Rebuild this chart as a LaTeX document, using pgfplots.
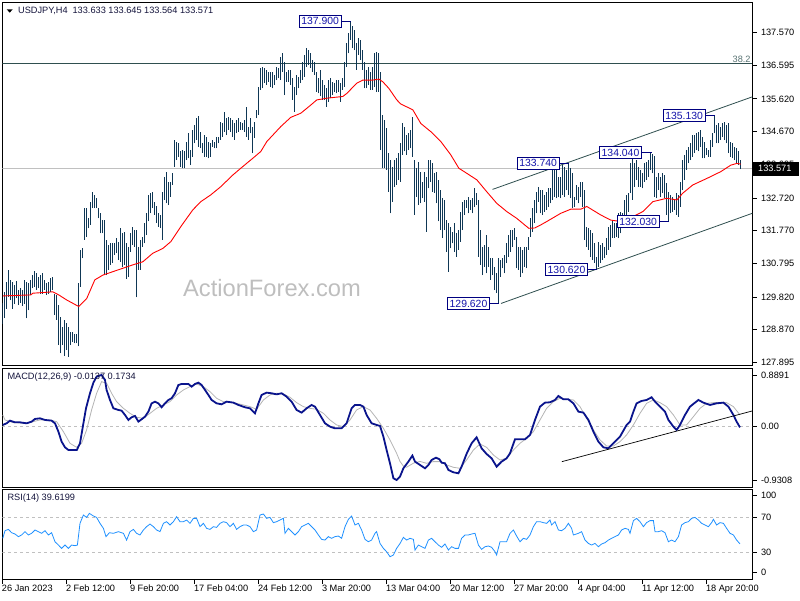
\documentclass[border=0pt]{standalone}
\usepackage{fontspec}
\setmainfont{Liberation Sans}
\usepackage{pgfplots}
\usepackage{pgfplotstable}
\pgfplotsset{compat=1.18}

\definecolor{barcol}{RGB}{15,55,85}
\definecolor{lblnavy}{RGB}{0,0,128}
\definecolor{lbltext}{RGB}{20,20,170}
\definecolor{slate}{RGB}{47,79,79}
\definecolor{macdblue}{RGB}{10,20,140}
\definecolor{sig}{RGB}{180,180,180}
\definecolor{rsiblue}{RGB}{30,144,255}
\definecolor{silv}{RGB}{192,192,192}
\definecolor{wm}{RGB}{190,190,190}
\definecolor{hdr}{RGB}{20,20,60}

\newcommand{\sm}{\fontsize{9.2}{11}\selectfont}
\newcommand{\lblf}{\fontsize{10.4}{12}\selectfont}

% H4 bars: low high (bar index = row number)
\pgfplotstableread[row sep=\\]{
l h\\
129.02 129.63\\ 129.19 129.97\\ 129.48 130.27\\ 129.82 130.62\\ 129.73 130.33\\ 129.48 130.27\\ 129.62 130.17\\ 129.78 130.30\\ 129.58 130.02\\ 129.65 130.07\\
129.55 130.02\\ 129.62 130.32\\ 129.19 130.27\\ 129.43 130.22\\ 129.88 130.32\\ 130.07 130.46\\ 130.12 130.59\\ 130.02 130.53\\ 130.07 130.41\\ 129.92 130.46\\
129.92 130.51\\ 130.02 130.32\\ 129.88 130.22\\ 129.92 130.27\\ 129.97 130.37\\ 130.02 130.41\\ 129.29 129.92\\ 129.15 129.88\\ 128.41 129.58\\ 128.17 129.24\\
128.41 128.95\\ 128.09 129.15\\ 128.27 129.05\\ 128.07 128.95\\ 128.41 128.80\\ 128.51 128.80\\ 128.46 128.75\\ 128.46 128.75\\ 128.37 130.22\\ 130.12 131.20\\
130.95 131.24\\ 131.49 132.42\\ 131.59 132.42\\ 131.83 132.12\\ 131.93 132.61\\ 132.42 132.90\\ 132.42 132.81\\ 132.42 132.71\\ 132.12 132.42\\ 131.68 132.27\\
131.68 132.07\\ 130.46 132.07\\ 130.46 131.49\\ 130.61 131.34\\ 130.76 131.39\\ 130.81 131.39\\ 131.05 131.39\\ 131.10 131.54\\ 130.90 131.44\\ 130.85 131.83\\
130.71 131.68\\ 130.76 131.73\\ 130.34 131.39\\ 130.41 131.29\\ 131.15 131.68\\ 131.34 131.88\\ 131.29 131.78\\ 129.81 131.78\\ 130.61 131.29\\ 130.61 131.49\\
131.29 131.59\\ 131.39 131.98\\ 131.63 132.27\\ 132.03 132.81\\ 132.27 132.86\\ 132.42 132.90\\ 132.22 132.61\\ 131.98 132.47\\ 131.88 132.27\\ 131.83 132.22\\
131.49 132.90\\ 132.66 133.34\\ 132.56 133.49\\ 132.51 133.20\\ 132.76 133.20\\ 133.10 133.44\\ 133.64 134.42\\ 133.83 134.37\\ 133.93 134.32\\ 133.64 134.08\\
133.59 134.12\\ 133.59 134.08\\ 133.83 134.37\\ 133.88 134.61\\ 133.68 134.12\\ 133.93 134.71\\ 134.32 134.86\\ 134.42 135.05\\ 134.22 135.12\\ 134.17 134.66\\
134.03 134.32\\ 133.93 134.56\\ 133.93 134.51\\ 133.88 134.37\\ 133.93 134.32\\ 134.22 134.42\\ 134.17 134.37\\ 134.17 134.51\\ 134.32 134.51\\ 134.42 134.95\\
134.51 134.90\\ 134.66 135.25\\ 134.56 135.05\\ 134.71 135.10\\ 134.66 135.05\\ 134.51 135.00\\ 134.42 134.90\\ 134.61 135.00\\ 134.66 135.05\\ 134.71 134.95\\
134.71 134.90\\ 134.66 135.00\\ 134.51 135.39\\ 134.42 134.81\\ 134.61 135.05\\ 134.03 134.81\\ 134.47 134.95\\ 135.05 135.30\\ 135.15 135.98\\ 135.88 136.52\\
135.93 136.56\\ 136.08 136.52\\ 136.03 136.47\\ 136.12 136.42\\ 135.98 136.42\\ 135.93 136.42\\ 136.03 136.32\\ 136.17 136.56\\ 136.22 136.52\\ 136.17 136.86\\
136.42 136.95\\ 135.73 136.71\\ 136.12 136.42\\ 136.12 136.47\\ 136.03 136.47\\ 135.59 136.22\\ 135.25 135.98\\ 135.73 136.32\\ 135.93 136.27\\ 136.08 136.47\\
136.17 136.71\\ 136.27 136.91\\ 136.56 137.10\\ 136.61 137.05\\ 136.52 136.95\\ 136.42 136.76\\ 136.32 136.71\\ 135.83 136.42\\ 135.78 136.22\\ 135.69 136.47\\
135.59 136.17\\ 135.59 136.03\\ 135.39 135.93\\ 135.54 136.17\\ 135.64 136.22\\ 135.73 136.12\\ 135.83 136.08\\ 135.78 136.17\\ 135.83 136.17\\ 135.54 136.08\\
135.88 136.22\\ 135.98 136.71\\ 136.56 137.25\\ 136.95 137.54\\ 137.35 137.90\\ 137.10 137.74\\ 137.05 137.64\\ 136.47 137.25\\ 136.91 137.39\\ 136.76 137.35\\
136.47 137.05\\ 135.93 136.71\\ 135.93 136.47\\ 136.03 136.56\\ 135.88 136.42\\ 135.88 136.56\\ 135.98 136.95\\ 135.83 137.00\\ 135.83 136.95\\ 134.12 136.42\\
133.59 135.15\\ 133.59 135.00\\ 133.54 134.76\\ 132.90 134.03\\ 132.27 133.83\\ 132.61 133.64\\ 133.05 133.83\\ 133.10 133.88\\ 133.24 134.03\\ 133.20 134.32\\
133.98 134.90\\ 134.08 134.81\\ 133.98 134.56\\ 134.12 134.61\\ 134.17 134.71\\ 133.93 135.10\\ 132.22 133.83\\ 132.76 133.59\\ 132.51 133.78\\ 132.56 133.49\\
132.71 133.20\\ 132.61 133.49\\ 131.73 133.34\\ 133.00 133.83\\ 133.20 133.83\\ 132.90 133.73\\ 132.86 133.44\\ 132.56 133.49\\ 132.03 133.25\\ 131.78 132.95\\
131.54 132.71\\ 131.78 132.66\\ 131.15 132.07\\ 130.56 131.98\\ 131.24 131.88\\ 131.39 131.73\\ 131.15 131.98\\ 131.00 131.68\\ 131.20 131.78\\ 131.44 132.32\\
131.78 132.61\\ 132.22 132.66\\ 132.42 132.66\\ 132.27 132.76\\ 132.37 132.66\\ 132.27 132.71\\ 132.46 133.00\\ 132.51 132.86\\ 131.00 132.66\\ 130.76 131.78\\
130.46 131.29\\ 130.71 131.34\\ 130.51 131.64\\ 130.71 131.29\\ 130.32 130.95\\ 130.46 130.95\\ 130.02 130.71\\ 129.93 130.51\\ 129.62 130.95\\ 130.41 130.90\\
130.66 130.95\\ 130.51 131.05\\ 130.81 131.39\\ 131.00 131.64\\ 131.15 131.78\\ 131.29 131.78\\ 131.49 131.83\\ 130.66 131.59\\ 130.61 131.29\\ 130.41 131.29\\
130.51 131.20\\ 130.71 131.29\\ 130.66 131.29\\ 131.20 131.59\\ 131.59 132.12\\ 131.73 132.42\\ 131.98 132.66\\ 132.27 132.90\\ 132.61 133.05\\ 132.27 132.95\\
132.22 132.95\\ 132.32 132.80\\ 132.37 132.90\\ 132.46 133.00\\ 132.56 133.00\\ 132.66 133.73\\ 132.76 133.73\\ 132.71 133.59\\ 132.76 133.34\\ 132.71 133.34\\
132.81 133.73\\ 132.76 133.64\\ 132.95 133.54\\ 132.81 133.74\\ 132.71 133.59\\ 132.42 133.44\\ 132.46 132.76\\ 132.66 133.10\\ 132.56 133.05\\ 132.76 133.20\\
132.46 133.20\\ 131.49 132.95\\ 131.29 131.88\\ 131.20 131.83\\ 131.00 131.78\\ 130.90 131.68\\ 130.81 131.39\\ 130.62 131.00\\ 130.71 131.44\\ 130.81 131.34\\
130.90 131.39\\ 130.95 131.29\\ 131.05 131.54\\ 131.20 131.88\\ 131.29 131.93\\ 131.54 132.03\\ 131.54 131.98\\ 131.59 131.98\\ 131.54 132.27\\ 131.68 132.32\\
131.83 132.27\\ 132.03 132.66\\ 132.17 132.81\\ 132.32 132.86\\ 132.86 133.73\\ 132.66 133.85\\ 133.05 133.73\\ 133.25 133.83\\ 133.05 133.64\\ 133.05 133.54\\
133.00 133.44\\ 133.20 133.73\\ 133.25 133.78\\ 133.34 133.83\\ 133.54 134.04\\ 133.44 134.00\\ 132.76 133.95\\ 132.71 133.34\\ 132.95 133.44\\ 132.76 133.34\\
132.86 133.44\\ 132.71 133.39\\ 132.22 133.15\\ 132.03 132.90\\ 132.27 132.81\\ 132.32 132.76\\ 132.37 132.66\\ 132.22 132.86\\ 132.17 132.81\\ 132.46 133.20\\
132.95 133.83\\ 133.25 133.98\\ 133.54 134.12\\ 133.73 134.22\\ 133.83 134.32\\ 133.93 134.56\\ 134.03 134.56\\ 134.12 134.61\\ 134.08 134.66\\ 134.22 134.71\\
133.88 134.51\\ 133.88 134.37\\ 133.98 134.17\\ 133.93 134.12\\ 133.93 134.42\\ 134.22 134.61\\ 134.61 135.13\\ 134.32 134.86\\ 134.32 134.90\\ 134.42 134.81\\
134.51 134.90\\ 134.42 134.95\\ 134.32 134.86\\ 134.03 134.90\\ 133.93 134.37\\ 133.88 134.32\\ 133.83 134.22\\ 133.73 134.17\\ 133.68 134.08\\ 133.56 133.83\\
}\bars

% moving average
\pgfplotstableread[row sep=\\]{
i v\\
0 129.85\\ 14 129.88\\ 15 129.93\\ 25 129.97\\ 28 129.88\\ 32 129.73\\ 38 129.54\\ 42 129.78\\ 46 130.32\\ 50 130.46\\
55 130.56\\ 60 130.66\\ 65 130.76\\ 70 130.85\\ 75 131.10\\ 80 131.24\\ 84 131.44\\ 89 131.88\\ 95 132.37\\ 99 132.61\\
104 132.81\\ 109 133.05\\ 115 133.39\\ 119 133.59\\ 126 133.93\\ 128 134.03\\ 129 134.08\\ 132 134.37\\ 139 134.81\\ 144 135.08\\
149 135.20\\ 154 135.44\\ 157 135.59\\ 162 135.64\\ 170 135.69\\ 172 135.78\\ 177 136.08\\ 180 136.17\\ 185 136.17\\ 188 136.20\\
190 136.12\\ 193 135.93\\ 197 135.59\\ 199 135.47\\ 205 135.30\\ 209 134.90\\ 214 134.66\\ 219 134.37\\ 224 133.98\\ 228 133.59\\
232 133.44\\ 237 133.25\\ 242 132.90\\ 247 132.56\\ 252 132.32\\ 257 132.12\\ 263 131.83\\ 266 131.84\\ 269 131.93\\ 272 132.03\\
279 132.27\\ 284 132.39\\ 289 132.39\\ 292 132.47\\ 299 132.22\\ 304 132.07\\ 309 132.03\\ 315 132.17\\ 320 132.32\\ 325 132.61\\
332 132.71\\ 337 132.66\\ 340 132.86\\ 345 133.10\\ 352 133.29\\ 359 133.49\\ 364 133.68\\ 367 133.73\\ 369 133.71\\
}\ma

% MACD main line
\pgfplotstableread[row sep=\\]{
i v\\
0 0.028\\ 1.9 0.056\\ 3.6 0.102\\ 6.1 0.073\\ 8.6 0.073\\ 11.9 0.056\\ 14.4 0.085\\ 16.1 0.131\\ 18.6 0.142\\ 21.1 0.114\\
24.4 0.102\\ 26.1 0.056\\ 27.8 -0.087\\ 29.4 -0.259\\ 31.1 -0.357\\ 32.8 -0.403\\ 37 -0.403\\ 38.6 -0.288\\ 40.3 0.056\\ 41.6 0.314\\
43.6 0.573\\ 45.3 0.756\\ 46.9 0.860\\ 49.4 0.888\\ 51.1 0.802\\ 51.9 0.630\\ 53.6 0.458\\ 55.3 0.314\\ 57.8 0.286\\ 59.4 0.274\\
61.1 0.200\\ 62.8 0.114\\ 64.4 0.160\\ 66.1 0.183\\ 67.8 0.085\\ 69.4 0.125\\ 71.1 0.171\\ 72.8 0.257\\ 74.4 0.400\\ 76.1 0.429\\
77.8 0.400\\ 79.4 0.332\\ 81.1 0.400\\ 82.8 0.458\\ 84.4 0.487\\ 86.1 0.573\\ 87.8 0.716\\ 89.4 0.733\\ 92.8 0.733\\ 94.4 0.687\\
96.1 0.733\\ 97.8 0.756\\ 99.4 0.716\\ 101.1 0.630\\ 102.8 0.544\\ 104.4 0.458\\ 106.9 0.400\\ 109.4 0.383\\ 111.9 0.429\\ 115.3 0.412\\
117.8 0.372\\ 121.1 0.332\\ 123.6 0.314\\ 126.1 0.228\\ 127.8 0.400\\ 129.4 0.544\\ 131.9 0.584\\ 134.4 0.573\\ 136.9 0.555\\ 139.4 0.573\\
141.9 0.515\\ 144.4 0.429\\ 146.9 0.286\\ 149.4 0.240\\ 151.9 0.314\\ 154.4 0.372\\ 156.1 0.343\\ 158.6 0.200\\ 161.1 0.056\\ 163.6 -0.001\\
166.1 -0.030\\ 169.4 -0.030\\ 171.9 0.056\\ 174.4 0.314\\ 176.1 0.372\\ 178.6 0.372\\ 180.3 0.343\\ 181.9 0.200\\ 184.4 0.056\\ 186.9 0.028\\
188.6 0.010\\ 190.3 -0.173\\ 191.9 -0.403\\ 193.6 -0.632\\ 195.3 -0.890\\ 196.9 -0.919\\ 198.6 -0.861\\ 200.3 -0.718\\ 202.8 -0.603\\ 204.8 -0.500\\
206.1 -0.603\\ 208.6 -0.661\\ 211.1 -0.718\\ 212.8 -0.661\\ 214.4 -0.575\\ 216.6 -0.535\\ 218.3 -0.563\\ 219.4 -0.621\\ 221.1 -0.632\\ 222.8 -0.747\\
225.3 -0.787\\ 227.8 -0.804\\ 229.4 -0.690\\ 232 -0.460\\ 234.4 -0.288\\ 236.9 -0.185\\ 239.4 -0.374\\ 241.9 -0.472\\ 244.4 -0.546\\ 246.9 -0.690\\
249.4 -0.603\\ 251.9 -0.546\\ 253.6 -0.460\\ 256.1 -0.219\\ 258.6 -0.219\\ 261.1 -0.219\\ 263.6 -0.144\\ 266.1 0.114\\ 268.6 0.343\\ 271.1 0.412\\
273.6 0.418\\ 276.1 0.458\\ 277.8 0.527\\ 280.3 0.469\\ 282.8 0.469\\ 285.3 0.400\\ 287.8 0.257\\ 290.3 0.240\\ 292.8 0.114\\ 295.3 -0.087\\
297.8 -0.259\\ 300.3 -0.357\\ 302.8 -0.374\\ 305.3 -0.288\\ 308.6 -0.173\\ 311.9 0.028\\ 313.6 0.085\\ 315.3 0.257\\ 316.9 0.400\\ 319.4 0.441\\
321.9 0.458\\ 324.4 0.504\\ 326.1 0.429\\ 328.6 0.343\\ 331.1 0.257\\ 332.8 0.114\\ 335.3 -0.001\\ 336.9 -0.058\\ 338.6 0.028\\ 341.1 0.200\\
343.6 0.343\\ 346.1 0.412\\ 347.8 0.458\\ 350.3 0.412\\ 353.6 0.372\\ 356.9 0.400\\ 360.3 0.412\\ 362.8 0.343\\ 365.3 0.200\\ 366.9 0.085\\
368.6 -0.014\\
}\macd

% MACD signal line
\pgfplotstableread[row sep=\\]{
i v\\
0 0.200\\ 1.1 0.114\\ 5.3 0.068\\ 11.9 0.056\\ 18.6 0.114\\ 23.6 0.114\\ 26.9 0.085\\ 30.3 -0.087\\ 33.6 -0.288\\ 36.9 -0.357\\
39.4 -0.288\\ 41.9 -0.058\\ 44.4 0.286\\ 46.9 0.573\\ 49.4 0.773\\ 51.9 0.745\\ 54.4 0.573\\ 56.9 0.429\\ 60.3 0.314\\ 63.6 0.228\\
66.9 0.160\\ 70.3 0.142\\ 73.6 0.228\\ 76.9 0.314\\ 80.3 0.372\\ 83.6 0.429\\ 86.9 0.544\\ 90.3 0.630\\ 93.6 0.687\\ 96.9 0.733\\
100.3 0.687\\ 103.6 0.601\\ 106.9 0.487\\ 110.3 0.429\\ 113.6 0.418\\ 116.9 0.400\\ 120.3 0.372\\ 123.6 0.343\\ 126.9 0.297\\ 130.3 0.458\\
133.6 0.544\\ 136.9 0.573\\ 140.3 0.561\\ 143.6 0.504\\ 146.9 0.412\\ 150.3 0.343\\ 153.6 0.314\\ 156.9 0.297\\ 160.3 0.228\\ 163.6 0.114\\
166.9 0.028\\ 170.3 -0.001\\ 173.6 0.114\\ 176.9 0.286\\ 180.3 0.343\\ 183.6 0.286\\ 186.9 0.142\\ 190.3 -0.030\\ 193.6 -0.230\\ 196.9 -0.460\\
198.6 -0.600\\ 200.3 -0.680\\ 201.9 -0.700\\ 205.3 -0.630\\ 208.6 -0.600\\ 211.9 -0.632\\ 215.3 -0.603\\ 218.6 -0.603\\ 221.9 -0.661\\ 225.3 -0.701\\
228.6 -0.718\\ 231.9 -0.575\\ 235.3 -0.403\\ 238.6 -0.299\\ 241.9 -0.357\\ 245.3 -0.489\\ 248.6 -0.575\\ 251.9 -0.546\\ 255.3 -0.403\\ 258.6 -0.288\\
261.9 -0.202\\ 265.3 -0.087\\ 268.6 0.114\\ 271.9 0.314\\ 275.3 0.429\\ 278.6 0.487\\ 281.9 0.469\\ 285.3 0.458\\ 288.6 0.343\\ 291.9 0.142\\
295.3 -0.058\\ 298.6 -0.230\\ 301.9 -0.334\\ 305.3 -0.334\\ 308.6 -0.259\\ 311.9 -0.144\\ 315.3 0.028\\ 318.6 0.228\\ 321.9 0.400\\ 325.3 0.458\\
328.6 0.412\\ 331.9 0.343\\ 335.3 0.200\\ 338.6 0.028\\ 341.9 0.028\\ 345.3 0.171\\ 348.6 0.314\\ 351.9 0.400\\ 355.3 0.412\\ 358.6 0.412\\
361.9 0.412\\ 365.3 0.343\\ 368.6 0.200\\
}\signal

% RSI(14)
\pgfplotstableread[row sep=\\]{
i v\\
0 46.0\\ 1.1 54.7\\ 2.8 56.2\\ 4.4 52.4\\ 6.1 50.9\\ 7.8 47.9\\ 9.4 49.8\\ 11.1 53.6\\ 12.8 49.8\\ 14.4 51.7\\
16.1 55.5\\ 17.8 53.6\\ 19.4 51.7\\ 21.1 54.7\\ 22.8 49.8\\ 24.4 52.4\\ 26.1 42.1\\ 27.8 38.3\\ 29.4 34.5\\ 31.1 38.3\\
32.8 34.5\\ 34.4 38.3\\ 36.1 37.6\\ 37.3 38.3\\ 38.6 63.1\\ 40.3 72.6\\ 41.9 69.9\\ 43.3 74.5\\ 45.3 71.5\\ 46.9 69.9\\
48.6 63.1\\ 50.3 57.4\\ 51.6 47.9\\ 53.3 52.4\\ 55.3 51.7\\ 57.8 53.6\\ 60.3 51.7\\ 61.9 44.0\\ 63.6 53.6\\ 65.3 56.2\\
66.9 51.7\\ 68.6 49.8\\ 70.3 55.5\\ 71.9 59.3\\ 73.6 62.3\\ 75.3 59.3\\ 76.9 55.5\\ 78.6 53.6\\ 80.3 63.1\\ 81.9 65.0\\
83.6 61.2\\ 85.3 65.0\\ 86.9 70.7\\ 88.6 65.0\\ 90.3 65.0\\ 91.9 66.9\\ 93.6 63.1\\ 95.3 68.8\\ 96.9 68.8\\ 98.6 59.3\\
100.3 63.1\\ 101.9 57.4\\ 103.6 56.2\\ 105.3 59.3\\ 106.9 58.5\\ 108.6 63.1\\ 110.3 65.0\\ 111.9 63.9\\ 113.6 59.3\\ 115.3 63.1\\
116.9 56.2\\ 118.6 59.3\\ 120.3 61.2\\ 121.9 61.2\\ 123.6 59.3\\ 125.3 53.6\\ 126.9 55.5\\ 128.6 72.6\\ 130.3 73.8\\ 131.9 68.8\\
133.6 69.9\\ 135.3 63.9\\ 136.9 65.0\\ 138.6 66.9\\ 140.3 68.8\\ 141.1 51.7\\ 142.8 57.4\\ 144.4 53.6\\ 146.1 49.8\\ 147.8 53.6\\
149.4 59.3\\ 151.1 61.2\\ 152.8 63.1\\ 154.4 59.3\\ 156.1 55.5\\ 157.8 49.8\\ 159.4 44.8\\ 161.1 44.0\\ 162.8 47.9\\ 164.4 46.0\\
166.1 47.9\\ 167.8 48.6\\ 169.4 46.0\\ 171.1 59.3\\ 172.8 67.7\\ 174.4 71.5\\ 176.1 61.2\\ 177.8 63.1\\ 179.4 55.5\\ 181.1 44.8\\
182.8 42.1\\ 184.4 44.0\\ 186.1 51.7\\ 186.9 53.6\\ 188.6 40.2\\ 190.3 34.5\\ 191.9 30.7\\ 193.6 25.0\\ 195.3 26.9\\ 196.9 34.5\\
198.6 40.0\\ 200.3 47.1\\ 201.9 44.0\\ 203.6 46.0\\ 205.3 44.8\\ 206.1 32.6\\ 207.8 38.3\\ 209.4 36.4\\ 211.1 34.5\\ 212.8 44.0\\
214.4 46.0\\ 216.1 42.1\\ 217.8 38.3\\ 219.4 35.7\\ 221.1 39.5\\ 222.8 32.6\\ 224.4 36.4\\ 226.1 34.5\\ 227.8 34.5\\ 229.4 46.0\\
231.1 49.8\\ 232.8 49.8\\ 234.4 50.9\\ 236.1 51.7\\ 237.8 38.3\\ 239.4 33.4\\ 241.1 36.4\\ 242.8 37.2\\ 244.4 35.7\\ 246.1 30.7\\
246.9 26.9\\ 248.6 42.1\\ 250.3 42.1\\ 251.9 42.1\\ 253.6 51.7\\ 255.3 55.5\\ 256.9 48.6\\ 258.6 42.1\\ 260.3 46.0\\ 261.9 44.8\\
263.6 49.8\\ 265.3 59.3\\ 266.9 65.0\\ 268.6 65.0\\ 270.3 63.9\\ 271.9 63.1\\ 273.6 66.9\\ 274.4 61.2\\ 276.1 65.0\\ 277.8 55.5\\
279.4 54.7\\ 281.1 57.4\\ 282.8 63.1\\ 284.4 57.4\\ 285.3 49.8\\ 287.8 51.7\\ 289.4 53.6\\ 291.1 44.0\\ 292.8 40.2\\ 294.4 38.3\\
296.1 40.2\\ 297.8 36.4\\ 299.4 39.5\\ 301.1 41.0\\ 302.8 44.0\\ 304.4 46.0\\ 306.1 47.9\\ 307.8 49.8\\ 309.4 55.5\\ 311.1 57.4\\
312.8 56.2\\ 313.6 51.7\\ 315.3 66.2\\ 316.9 68.8\\ 318.6 65.0\\ 320.3 59.3\\ 321.9 63.9\\ 323.6 66.2\\ 325.3 66.2\\ 326.1 53.6\\
327.8 53.6\\ 329.4 54.7\\ 331.1 52.4\\ 332.8 42.1\\ 334.4 44.0\\ 336.1 42.1\\ 337.8 47.9\\ 339.4 61.2\\ 341.1 63.9\\ 342.8 65.0\\
344.4 68.8\\ 346.1 69.9\\ 347.8 66.9\\ 349.4 63.1\\ 351.1 61.2\\ 352.8 59.3\\ 354.4 63.9\\ 355.3 67.7\\ 356.9 61.2\\ 358.6 63.9\\
360.3 63.1\\ 361.9 57.4\\ 363.6 51.7\\ 365.3 49.8\\ 366.9 44.0\\ 368.6 39.6\\
}\rsi

\pgfplotsset{
  panel/.style={
    scale only axis, width=750pt, xmin=-0.25, xmax=374.75,
    axis line style={line width=0.9pt, black},
    tick style={black, line width=0.8pt},
    tick align=outside, major tick length=4.5pt,
    ytick pos=right, yticklabel pos=right,
    xtick=\empty, minor tick num=0,
    ticklabel style={font=\sm, text=black},
    yticklabel style={anchor=west, inner sep=0pt, xshift=4pt},
  },
}
\tikzset{
  lbl/.style={draw=lblnavy, fill=white, text=lbltext, font=\lblf,
    inner xsep=2pt, inner ysep=0pt, minimum height=12pt, line width=0.8pt, anchor=east},
}

\begin{document}
\begin{tikzpicture}
\useasboundingbox (0pt,0pt) rectangle (800pt,600pt);

% ---- price panel
\begin{axis}[panel, at={(2.3pt,235pt)}, anchor=south west, height=362.7pt,
  ymin=127.828, ymax=138.448,
  ytick={127.895,128.870,129.820,130.795,131.770,132.720,133.695,134.670,135.620,136.595,137.570},
  yticklabels={127.895,128.870,129.820,130.795,131.770,132.720,133.695,134.670,135.620,136.595,137.570}]
\node[text=wm, font=\fontsize{23.7}{28}\selectfont] at (axis cs:134.6,130.08) {ActionForex.com};
\addplot[silv, line width=0.9pt] coordinates {(-0.25,133.571) (374.75,133.571)};
\addplot[slate, line width=0.9pt] coordinates {(-0.25,136.66) (374.75,136.66)};
\addplot[draw=none, mark=none,
  error bars/.cd, y dir=plus, y explicit, error mark=none,
  error bar style={draw=barcol, line width=1pt}]
  table[x expr=\coordindex, y=l, y error plus expr=\thisrow{h}-\thisrow{l}] {\bars};
\addplot[red, line width=0.9pt] table[x=i, y=v] {\ma};
% channel
\addplot[slate, line width=0.8pt] coordinates {(244.9,132.97) (374.75,135.68)};
\addplot[slate, line width=0.8pt] coordinates {(249.1,129.63) (374.75,132.27)};
% swing labels
\draw[lblnavy, line width=0.8pt] (axis cs:169.25,137.90) -- (axis cs:174,137.90);
\node[lbl] at (axis cs:169.25,137.90) {137.900};
\draw[lblnavy, line width=0.8pt] (axis cs:243.45,129.62) -- (axis cs:248,129.62);
\node[lbl] at (axis cs:243.45,129.62) {129.620};
\draw[lblnavy, line width=0.8pt] (axis cs:278.25,133.74) -- (axis cs:283,133.74);
\node[lbl] at (axis cs:278.25,133.74) {133.740};
\draw[lblnavy, line width=0.8pt] (axis cs:319.45,134.05) -- (axis cs:324.5,134.05);
\node[lbl] at (axis cs:319.45,134.05) {134.040};
\draw[lblnavy, line width=0.8pt] (axis cs:351.25,135.13) -- (axis cs:356,135.13);
\node[lbl] at (axis cs:351.25,135.13) {135.130};
\draw[lblnavy, line width=0.8pt] (axis cs:328.25,132.03) -- (axis cs:333,132.03);
\node[lbl] at (axis cs:328.25,132.03) {132.030};
\draw[lblnavy, line width=0.8pt] (axis cs:292.45,130.62) -- (axis cs:297,130.62);
\node[lbl] at (axis cs:292.45,130.62) {130.620};
\node[anchor=south east, text=slate!80, font=\sm, inner sep=1pt] at (axis cs:374.5,136.66) {38.2};
\end{axis}

% ---- MACD panel
\begin{axis}[panel, at={(2.3pt,112.3pt)}, anchor=south west, height=119.4pt,
  ymin=-1.052, ymax=1.003,
  ytick={-0.9308,0,0.8891}, yticklabels={-0.9308,0.00,0.8891}]
\addplot[silv, line width=0.8pt, dash pattern=on 3pt off 3pt] coordinates {(-0.25,0) (374.75,0)};
\addplot[sig, line width=0.8pt] table[x=i, y=v] {\signal};
\addplot[macdblue, line width=1.8pt] table[x=i, y=v] {\macd};
\addplot[black, line width=0.7pt] coordinates {(279.5,-0.604) (374.75,0.269)};
\end{axis}

% ---- RSI panel
\begin{axis}[panel, at={(2.3pt,21pt)}, anchor=south west, height=89.7pt,
  ymin=-0.5, ymax=102,
  ytick={7.1,30,70,94.7}, yticklabels={0,30,70,100},
  xtick={0,32,64,96,128,160,192,224,256,288,320,352},
  xticklabels={26 Jan 2023,2 Feb 12:00,9 Feb 20:00,17 Feb 04:00,24 Feb 12:00,3 Mar 20:00,13 Mar 04:00,20 Mar 12:00,27 Mar 20:00,4 Apr 04:00,11 Apr 12:00,18 Apr 20:00},
  xtick pos=bottom, xticklabel pos=bottom,
  xticklabel style={anchor=north west, inner sep=0pt, xshift=-1pt, yshift=-1pt}]
\addplot[silv, line width=0.8pt, dash pattern=on 3pt off 3pt] coordinates {(-0.25,70) (374.75,70)};
\addplot[silv, line width=0.8pt, dash pattern=on 3pt off 3pt] coordinates {(-0.25,30) (374.75,30)};
\addplot[rsiblue, line width=0.8pt] table[x=i, y=v] {\rsi};
\end{axis}

% ---- headers and current price box
\fill[black] (6.7pt,590.7pt) -- (12.7pt,590.7pt) -- (9.7pt,587.3pt) -- cycle;
\node[anchor=west, inner sep=0pt, font=\sm, text=hdr] at (18pt,589pt) {USDJPY,H4\hspace{5pt}133.633 133.645 133.564 133.571};
\node[anchor=west, inner sep=0pt, font=\sm, text=hdr] at (7.3pt,223.3pt) {MACD(12,26,9) -0.0137 0.1734};
\node[anchor=west, inner sep=0pt, font=\sm, text=hdr] at (7.3pt,101.7pt) {RSI(14) 39.6199};
\fill[black] (753pt,424.3pt) rectangle (799pt,438.1pt);
\node[anchor=west, inner sep=0pt, font=\sm, text=white] at (758pt,431.2pt) {133.571};
\end{tikzpicture}
\end{document}
